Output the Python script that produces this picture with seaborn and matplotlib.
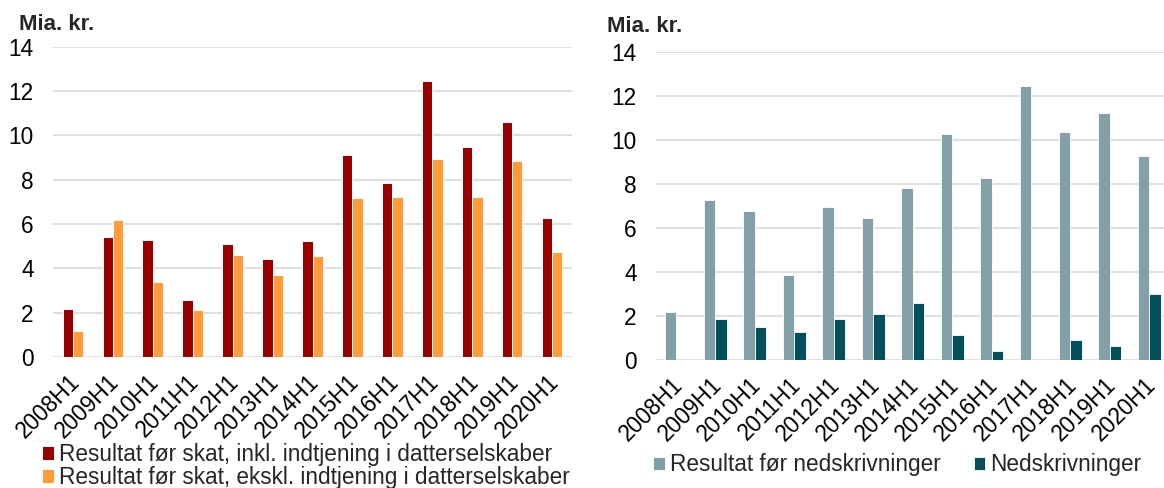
import matplotlib
matplotlib.use("Agg")
import matplotlib.pyplot as plt
import matplotlib.transforms as mtransforms
import seaborn as sns
import pandas as pd

periods = ["2008H1", "2009H1", "2010H1", "2011H1", "2012H1", "2013H1", "2014H1",
           "2015H1", "2016H1", "2017H1", "2018H1", "2019H1", "2020H1"]

left_names = ["Resultat før skat, inkl. indtjening i datterselskaber",
              "Resultat før skat, ekskl. indtjening i datterselskaber"]
inkl = [2.15, 5.42, 5.27, 2.59, 5.09, 4.40, 5.22, 9.11, 7.84, 12.45, 9.47, 10.60, 6.26]
ekskl = [1.17, 6.16, 3.40, 2.11, 4.58, 3.69, 4.55, 7.18, 7.24, 8.93, 7.21, 8.84, 4.73]

right_names = ["Resultat før nedskrivninger", "Nedskrivninger"]
foer_ned = [2.19, 7.28, 6.78, 3.85, 6.96, 6.45, 7.82, 10.26, 8.25, 12.46, 10.34, 11.23, 9.26]
ned = [0.0, 1.85, 1.51, 1.26, 1.88, 2.08, 2.60, 1.14, 0.42, 0.0, 0.89, 0.62, 3.00]

y_ticks = [0, 2, 4, 6, 8, 10, 12, 14]
unit_label = "Mia. kr."

left_colors = ["#990000", "#FF9B38"]
right_colors = ["#83A0A9", "#034F5C"]

df_left = pd.DataFrame({"periode": periods * 2,
                        "serie": [left_names[0]] * 13 + [left_names[1]] * 13,
                        "værdi": inkl + ekskl})
df_right = pd.DataFrame({"periode": periods * 2,
                         "serie": [right_names[0]] * 13 + [right_names[1]] * 13,
                         "værdi": foer_ned + ned})

sns.set_theme(style="white")
plt.rcParams["font.family"] = ["Liberation Sans", "DejaVu Sans"]

W, H = 1164, 488
fig = plt.figure(figsize=(W / 100, H / 100), dpi=100)

axL = fig.add_axes([53 / W, 1 - 357 / H, 519 / W, (357 - 46.7) / H])
axR = fig.add_axes([656.3 / W, 1 - 360 / H, 512.7 / W, (360 - 51.7) / H])

sns.barplot(data=df_left, x="periode", y="værdi", hue="serie", palette=left_colors,
            width=0.52, edgecolor="white", linewidth=0.7, saturation=1, ax=axL)
sns.barplot(data=df_right, x="periode", y="værdi", hue="serie", palette=right_colors,
            width=0.58, edgecolor="white", linewidth=0.6, saturation=1, ax=axR)

fs = 16.3
offset = mtransforms.ScaledTranslation(3 / 100, -2 / 100, fig.dpi_scale_trans)
for ax in (axL, axR):
    ax.set_ylim(0, 14)
    ax.set_xlim(-0.5, 12.5)
    ax.set_yticks(y_ticks)
    ax.set_yticklabels([str(v) for v in y_ticks], fontsize=fs, color="#000000")
    ax.yaxis.grid(True, color="#D9D9D9", linewidth=1.2)
    ax.set_axisbelow(True)
    for s in ax.spines.values():
        s.set_visible(False)
    ax.tick_params(axis="y", length=0, pad=14)
    ax.tick_params(axis="x", length=0, pad=14)
    ax.set_xlabel("")
    ax.set_ylabel("")
    for lab in ax.get_xticklabels():
        lab.set_rotation(45)
        lab.set_ha("right")
        lab.set_va("center")
        lab.set_rotation_mode("anchor")
        lab.set_fontsize(fs)
        lab.set_color("#000000")
        lab.set_transform(lab.get_transform() + offset)

hL, lL = axL.get_legend_handles_labels()
axL.legend(hL, lL, loc="center left", bbox_to_anchor=(42 / W, 1 - 466 / H),
           bbox_transform=fig.transFigure, frameon=False, fontsize=fs,
           handlelength=0.52, handleheight=0.55, handletextpad=0.22,
           labelspacing=0.0, borderpad=0, borderaxespad=0)

hR, lR = axR.get_legend_handles_labels()
axR.legend(hR, lR, loc="center left", bbox_to_anchor=(653 / W, 1 - 465 / H),
           bbox_transform=fig.transFigure, frameon=False, fontsize=fs, ncol=2,
           handlelength=0.52, handleheight=0.55, handletextpad=0.22,
           columnspacing=1.46, borderpad=0, borderaxespad=0)

fig.text(19 / W, 1 - 24 / H, unit_label, fontsize=16, fontweight="bold", va="center", ha="left")
fig.text(607 / W, 1 - 27 / H, unit_label, fontsize=16, fontweight="bold", va="center", ha="left")

fig.savefig("out.png", dpi=100)
